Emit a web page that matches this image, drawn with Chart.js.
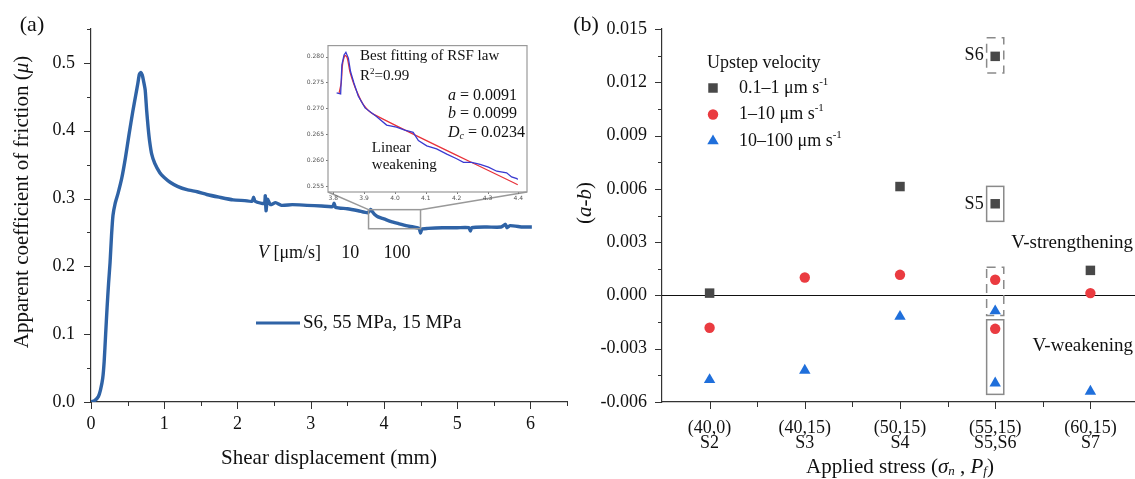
<!DOCTYPE html>
<html>
<head>
<meta charset="utf-8">
<script src="https://cdn.jsdelivr.net/npm/chart.js@4.4.1/dist/chart.umd.min.js"></script>
<style>
  html, body { margin: 0; padding: 0; background: #fff; overflow: hidden; }
  #wrap { position: relative; width: 1135px; height: 479px; }
  canvas { position: absolute; top: 0; }
  #panelA { left: 0; }
  #panelB { left: 560px; }
  #inset { left: 295px; top: 38px; }
</style>
</head>
<body>
<div id="wrap">
  <canvas id="panelA" width="570" height="479" style="width:570px;height:479px"></canvas>
  <canvas id="panelB" width="578" height="479" style="width:578px;height:479px"></canvas>
  <canvas id="inset" width="240" height="165" style="width:240px;height:165px"></canvas>
</div>
<script>
// ---- panel (a): friction curve of S6 ----
const shearDisp = [0, 0.05, 0.10, 0.13, 0.16, 0.18, 0.20, 0.22, 0.24, 0.26,
  0.28, 0.30, 0.33, 0.37, 0.42, 0.47, 0.52, 0.57, 0.61, 0.64,
  0.66, 0.68, 0.70, 0.72, 0.74, 0.76, 0.78, 0.80, 0.83, 0.87,
  0.94, 1.00, 1.08, 1.18, 1.31, 1.45, 1.58, 1.75, 1.94, 2.10,
  2.20, 2.22, 2.24, 2.33, 2.37, 2.38, 2.39, 2.41, 2.45, 2.52,
  2.60, 2.75, 2.95, 3.15, 3.30, 3.32, 3.34, 3.50, 3.65, 3.78,
  3.82, 3.84, 3.87, 3.92, 4.00, 4.10, 4.20, 4.30, 4.40, 4.48,
  4.50, 4.52, 4.60, 4.80, 5.00, 5.16, 5.18, 5.20, 5.40, 5.60,
  5.66, 5.68, 5.72, 5.90, 6.02];
const frictionS6 = [0, 0.002, 0.008, 0.018, 0.035, 0.060, 0.100, 0.140, 0.175, 0.205,
  0.245, 0.275, 0.293, 0.308, 0.330, 0.360, 0.395, 0.428, 0.452, 0.470,
  0.483, 0.486, 0.482, 0.472, 0.460, 0.430, 0.405, 0.385, 0.365, 0.352,
  0.338, 0.331, 0.324, 0.318, 0.313, 0.310, 0.306, 0.302, 0.298, 0.297,
  0.296, 0.302, 0.296, 0.293, 0.293, 0.304, 0.282, 0.299, 0.291, 0.294,
  0.290, 0.291, 0.290, 0.289, 0.288, 0.293, 0.287, 0.285, 0.282, 0.279,
  0.284, 0.281, 0.277, 0.273, 0.270, 0.266, 0.263, 0.260, 0.258, 0.256,
  0.249, 0.255, 0.256, 0.257, 0.257, 0.257, 0.252, 0.257, 0.258, 0.258,
  0.262, 0.257, 0.260, 0.258, 0.258];
const curveLabel = 'S6, 55 MPa, 15 MPa';
const velocitySteps = ['10', '100'];

// inset: measured vs RSF fit
const insetDisp = [3.811, 3.824, 3.828, 3.835, 3.841, 3.849, 3.856, 3.867, 3.881, 3.903,
  3.941, 3.973, 4.005, 4.032, 4.059, 4.076, 4.103, 4.135, 4.168, 4.200,
  4.222, 4.249, 4.276, 4.303, 4.330, 4.362, 4.378, 4.395, 4.398];
const insetMeasured = [0.2730, 0.2728, 0.2784, 0.2803, 0.2808, 0.2797, 0.2771, 0.2749, 0.2724, 0.2701,
  0.2684, 0.2668, 0.2664, 0.2658, 0.2654, 0.2638, 0.2628, 0.2622, 0.2612, 0.2603,
  0.2596, 0.2596, 0.2592, 0.2587, 0.2579, 0.2576, 0.2568, 0.2565, 0.2563];
const fitDisp = [3.819, 3.826, 3.830, 3.838, 3.845, 3.854, 3.865, 3.876, 3.897, 3.930, 4.398];
const fitRSF = [0.2730, 0.2750, 0.2784, 0.2802, 0.2798, 0.2771, 0.2750, 0.2733, 0.2708, 0.2689, 0.2553];

// ---- panel (b): (a-b) per test ----
const conditions = [['(40,0)', 'S2'], ['(40,15)', 'S3'], ['(50,15)', 'S4'], ['(55,15)', 'S5,S6'], ['(60,15)', 'S7']];
const sampleCategory = { S2: 0, S3: 1, S4: 2, S5: 3, S6: 3, S7: 4 };
const seriesLabels = ['0.1–1 μm s^-1', '1–10 μm s^-1', '10–100 μm s^-1'];
const lowSamples = ['S2', 'S4', 'S5', 'S6', 'S7'];
const lowAB = [0.00013, 0.00613, 0.00516, 0.01346, 0.00141];
const midSamples = ['S2', 'S3', 'S4', 'S5', 'S6', 'S7'];
const midAB = [-0.00182, 0.00101, 0.00116, -0.00188, 0.00088, 0.00013];
const highSamples = ['S2', 'S3', 'S4', 'S5', 'S6', 'S7'];
const highAB = [-0.00475, -0.00422, -0.00119, -0.00494, -0.00088, -0.0054];

const SERIF = '"Liberation Serif", "Times New Roman", Times, serif';
const TEXT = '#111';
const AXIS = '#333';
const BLUE = '#2f63a6';

function font(size, style) { return (style || '') + ' ' + size + 'px ' + SERIF; }

// parts: [text, size, style, dy]
function rich(ctx, parts, x, y, align) {
  ctx.textAlign = 'left';
  ctx.textBaseline = 'middle';
  let w = 0;
  parts.forEach(p => { ctx.font = font(p[1], p[2]); w += ctx.measureText(p[0]).width; });
  let cx = align === 'center' ? x - w / 2 : align === 'right' ? x - w : x;
  parts.forEach(p => {
    ctx.font = font(p[1], p[2]);
    ctx.fillText(p[0], cx, y + (p[3] || 0));
    cx += ctx.measureText(p[0]).width;
  });
}

function steps(from, to, step) {
  const out = [];
  for (let v = from; v <= to + step / 1000; v += step) out.push(+v.toFixed(6));
  return out;
}

function marker(ctx, style, r, x, y, color) {
  ctx.fillStyle = color;
  ctx.beginPath();
  if (style === 'rect') {
    const s = Math.SQRT1_2 * r;
    ctx.rect(x - s, y - s, 2 * s, 2 * s);
  } else if (style === 'triangle') {
    for (let k = 0; k < 3; k++) {
      const a = k * 2 * Math.PI / 3;
      const px = x + Math.sin(a) * r, py = y - Math.cos(a) * r;
      if (k) ctx.lineTo(px, py); else ctx.moveTo(px, py);
    }
    ctx.closePath();
  } else {
    ctx.arc(x, y, r, 0, 2 * Math.PI);
  }
  ctx.fill();
}

// outside tick marks, major and minor
const tickMarks = {
  id: 'tickMarks',
  afterDraw(chart, args, opts) {
    const ctx = chart.ctx;
    ctx.save();
    ctx.strokeStyle = opts.color || AXIS;
    ctx.lineWidth = 1;
    (opts.marks || []).forEach(m => {
      const sc = chart.scales[m.axis];
      m.values.forEach(v => {
        const p = Math.round(sc.getPixelForValue(v)) + 0.5;
        ctx.beginPath();
        if (sc.isHorizontal()) { ctx.moveTo(p, sc.top); ctx.lineTo(p, sc.top + m.len); }
        else { ctx.moveTo(sc.right, p); ctx.lineTo(sc.right - m.len, p); }
        ctx.stroke();
      });
    });
    ctx.restore();
  }
};

const noGrid = { display: false, drawTicks: false };
const INSET = { left: 295, top: 38, areaLeft: 33, areaTop: 6, areaRight: 232, areaBottom: 154 };

const panelADecor = {
  id: 'panelADecor',
  afterDraw(chart) {
    const { ctx, chartArea: ca, scales: { x, y } } = chart;
    ctx.save();
    ctx.fillStyle = TEXT;
    rich(ctx, [['(a)', 22]], 32, 25, 'center');
    rich(ctx, [['Shear displacement (mm)', 21]], (ca.left + ca.right) / 2, 458, 'center');
    ctx.save();
    ctx.translate(22, 202);
    ctx.rotate(-Math.PI / 2);
    rich(ctx, [['Apparent coefficient of friction (', 21], ['μ', 21, 'italic'], [')', 21]], 0, 0, 'center');
    ctx.restore();

    // velocity steps
    rich(ctx, [['V', 18, 'italic'], [' [μm/s]', 18]], x.getPixelForValue(2.28), y.getPixelForValue(0.22), 'left');
    rich(ctx, [[velocitySteps[0], 18]], x.getPixelForValue(3.54), y.getPixelForValue(0.22), 'center');
    rich(ctx, [[velocitySteps[1], 18]], x.getPixelForValue(4.18), y.getPixelForValue(0.22), 'center');

    // legend
    const ds = chart.data.datasets[0];
    ctx.strokeStyle = ds.borderColor;
    ctx.lineWidth = 3;
    ctx.beginPath(); ctx.moveTo(256, 323); ctx.lineTo(300, 323); ctx.stroke();
    ctx.fillStyle = TEXT;
    rich(ctx, [[ds.label, 19]], 303, 323, 'left');

    // zoom window and connectors to the inset
    const x0 = x.getPixelForValue(3.79), x1 = x.getPixelForValue(4.5);
    const y0 = y.getPixelForValue(0.2836), y1 = y.getPixelForValue(0.2555);
    ctx.strokeStyle = '#999';
    ctx.lineWidth = 1.5;
    ctx.strokeRect(x0, y0, x1 - x0, y1 - y0);
    ctx.beginPath();
    ctx.moveTo(x0, y0); ctx.lineTo(INSET.left + INSET.areaLeft, INSET.top + INSET.areaBottom);
    ctx.moveTo(x1, y0); ctx.lineTo(INSET.left + INSET.areaRight, INSET.top + INSET.areaBottom);
    ctx.stroke();
    ctx.restore();
  }
};

new Chart(document.getElementById('panelA'), {
  type: 'line',
  data: {
    datasets: [{
      label: curveLabel,
      data: shearDisp.map((d, i) => ({ x: d, y: frictionS6[i] })),
      borderColor: BLUE,
      borderWidth: 3.4,
      pointRadius: 0,
      tension: 0.2,
      fill: false
    }]
  },
  options: {
    responsive: false,
    animation: false,
    events: [],
    layout: { autoPadding: false, padding: { top: 29, right: 3, left: 0, bottom: 0 } },
    plugins: {
      legend: { display: false },
      tooltip: { enabled: false },
      tickMarks: {
        marks: [
          { axis: 'x', values: steps(0, 6, 1), len: 7 },
          { axis: 'x', values: steps(0.5, 6.5, 1), len: 4 },
          { axis: 'y', values: steps(0, 0.5, 0.1), len: 7 },
          { axis: 'y', values: steps(0.05, 0.55, 0.1), len: 4 }
        ]
      }
    },
    scales: {
      x: {
        type: 'linear', min: 0, max: 6.5,
        afterFit: s => { s.height = 77; },
        grid: noGrid,
        border: { color: AXIS, width: 1.2 },
        ticks: { stepSize: 1, includeBounds: false, padding: 11, color: TEXT, font: { family: SERIF, size: 18 } }
      },
      y: {
        min: 0, max: 0.55,
        afterFit: s => { s.width = 91; },
        grid: noGrid,
        border: { color: AXIS, width: 1.2 },
        ticks: { stepSize: 0.1, includeBounds: false, padding: 16, color: TEXT, font: { family: SERIF, size: 18 },
          callback: v => v.toFixed(1) }
      }
    }
  },
  plugins: [tickMarks, panelADecor]
});

// ---- inset ----
const insetDecor = {
  id: 'insetDecor',
  afterDraw(chart) {
    const { ctx, chartArea: ca, scales: { x, y } } = chart;
    ctx.save();
    ctx.strokeStyle = '#9a9a9a';
    ctx.lineWidth = 1.2;
    ctx.strokeRect(ca.left, ca.top, ca.right - ca.left, ca.bottom - ca.top);
    ctx.fillStyle = TEXT;
    const px = v => x.getPixelForValue(v), py = v => y.getPixelForValue(v);
    rich(ctx, [['Best fitting of RSF law', 15]], px(3.887), py(0.2800), 'left');
    rich(ctx, [['R', 15], ['2', 9, '', -5], ['=0.99', 15]], px(3.887), py(0.2762), 'left');
    rich(ctx, [['a', 16, 'italic'], [' = 0.0091', 16]], px(4.172), py(0.2724), 'left');
    rich(ctx, [['b', 16, 'italic'], [' = 0.0099', 16]], px(4.172), py(0.2689), 'left');
    rich(ctx, [['D', 16, 'italic'], ['c', 10, 'italic', 4], [' = 0.0234', 16]], px(4.172), py(0.2653), 'left');
    rich(ctx, [['Linear', 15]], px(3.925), py(0.2624), 'left');
    rich(ctx, [['weakening', 15]], px(3.925), py(0.2590), 'left');
    ctx.restore();
  }
};

new Chart(document.getElementById('inset'), {
  type: 'line',
  data: {
    datasets: [
      { label: 'Measured', data: insetDisp.map((d, i) => ({ x: d, y: insetMeasured[i] })),
        borderColor: '#3a3ad0', borderWidth: 1.3, pointRadius: 0, tension: 0 },
      { label: 'RSF fit', data: fitDisp.map((d, i) => ({ x: d, y: fitRSF[i] })),
        borderColor: '#e8323a', borderWidth: 1.3, pointRadius: 0, tension: 0.3 }
    ]
  },
  options: {
    responsive: false,
    animation: false,
    events: [],
    layout: { autoPadding: false, padding: { top: INSET.areaTop, right: 240 - INSET.areaRight, left: 0, bottom: 0 } },
    plugins: {
      legend: { display: false },
      tooltip: { enabled: false },
      tickMarks: {
        color: '#777',
        marks: [
          { axis: 'x', values: steps(3.8, 4.4, 0.1), len: 2 },
          { axis: 'y', values: steps(0.255, 0.28, 0.005), len: 2 }
        ]
      }
    },
    scales: {
      x: {
        type: 'linear', min: 3.783, max: 4.428,
        afterFit: s => { s.height = 165 - INSET.areaBottom; },
        grid: noGrid,
        border: { display: false },
        ticks: { stepSize: 0.1, includeBounds: false, padding: 3, color: '#555', font: { family: 'DejaVu Sans', size: 6 },
          callback: v => v.toFixed(1) }
      },
      y: {
        min: 0.2539, max: 0.2821,
        afterFit: s => { s.width = INSET.areaLeft; },
        grid: noGrid,
        border: { display: false },
        ticks: { stepSize: 0.005, includeBounds: false, padding: 4, color: '#555', font: { family: 'DejaVu Sans', size: 6 },
          callback: v => v.toFixed(3) }
      }
    }
  },
  plugins: [tickMarks, insetDecor]
});

// ---- panel (b) ----
const boxes = [
  { sample: 'S6', y0: 0.01252, y1: 0.01451, dashed: true },
  { sample: 'S5', y0: 0.00417, y1: 0.00614, dashed: false },
  { sample: 'S6', y0: -0.00113, y1: 0.00159, dashed: true },
  { sample: 'S5', y0: -0.00557, y1: -0.00137, dashed: false }
];

const panelBDecor = {
  id: 'panelBDecor',
  beforeDatasetsDraw(chart) {
    const { ctx, chartArea: ca, scales: { x, y } } = chart;
    ctx.save();
    const z = Math.round(y.getPixelForValue(0)) + 0.5;
    ctx.strokeStyle = '#111';
    ctx.lineWidth = 1;
    ctx.beginPath(); ctx.moveTo(ca.left, z); ctx.lineTo(ca.right, z); ctx.stroke();
    ctx.strokeStyle = '#8a8a8a';
    ctx.lineWidth = 1.5;
    boxes.forEach(b => {
      const c = sampleCategory[b.sample];
      const l = x.getPixelForValue(c - 0.09), r = x.getPixelForValue(c + 0.09);
      const t = y.getPixelForValue(b.y1), btm = y.getPixelForValue(b.y0);
      ctx.setLineDash(b.dashed ? [9, 6] : []);
      ctx.strokeRect(l, t, r - l, btm - t);
    });
    ctx.restore();
  },
  afterDraw(chart) {
    const { ctx, chartArea: ca, scales: { x, y } } = chart;
    ctx.save();
    ctx.fillStyle = TEXT;
    rich(ctx, [['(b)', 22]], 26, 25, 'center');
    ctx.save();
    ctx.translate(25, 203);
    ctx.rotate(-Math.PI / 2);
    rich(ctx, [['(', 21], ['a', 21, 'italic'], ['-', 21], ['b', 21, 'italic'], [')', 21]], 0, 0, 'center');
    ctx.restore();
    rich(ctx, [['Applied stress (', 21], ['σ', 21, 'italic'], ['n', 13, 'italic', 5], [' , ', 21],
      ['P', 21, 'italic'], ['f', 13, 'italic', 5], [')', 21]], (ca.left + ca.right) / 2, 467, 'center');

    // sample tags next to boxes
    const bl = x.getPixelForValue(3 - 0.09) - 3;
    rich(ctx, [['S6', 18]], bl, y.getPixelForValue(0.01351), 'right');
    rich(ctx, [['S5', 18]], bl, y.getPixelForValue(0.00516), 'right');
    rich(ctx, [['V-strengthening', 19]], ca.right - 5, y.getPixelForValue(0.00293), 'right');
    rich(ctx, [['V-weakening', 19]], ca.right - 5, y.getPixelForValue(-0.00282), 'right');

    // legend
    rich(ctx, [['Upstep velocity', 18]], 147, 63, 'left');
    chart.data.datasets.forEach((ds, i) => {
      const yy = 88 + i * 26.5;
      marker(ctx, ds.pointStyle, ds.pointRadius, 153, yy, ds.backgroundColor);
      const parts = ds.label.split('^');
      ctx.fillStyle = TEXT;
      rich(ctx, [[parts[0], 18], [parts[1], 11, '', -6]], 179, yy, 'left');
    });
    ctx.restore();
  }
};

function series(samples, values) {
  return samples.map((s, i) => ({ x: sampleCategory[s], y: values[i] }));
}

new Chart(document.getElementById('panelB'), {
  type: 'scatter',
  data: {
    datasets: [
      { label: seriesLabels[0], data: series(lowSamples, lowAB), pointStyle: 'rect', pointRadius: 6.7,
        backgroundColor: '#484848', borderWidth: 0 },
      { label: seriesLabels[1], data: series(midSamples, midAB), pointStyle: 'circle', pointRadius: 5.2,
        backgroundColor: '#ea3b40', borderWidth: 0 },
      { label: seriesLabels[2], data: series(highSamples, highAB), pointStyle: 'triangle', pointRadius: 6.6,
        backgroundColor: '#1f6fdb', borderWidth: 0 }
    ]
  },
  options: {
    responsive: false,
    animation: false,
    events: [],
    layout: { autoPadding: false, padding: { top: 29, right: 0, left: 0, bottom: 0 } },
    plugins: {
      legend: { display: false },
      tooltip: { enabled: false },
      tickMarks: {
        marks: [
          { axis: 'x', values: [0, 1, 2, 3, 4], len: 7 },
          { axis: 'x', values: [0.5, 1.5, 2.5, 3.5], len: 5 },
          { axis: 'y', values: steps(-0.006, 0.015, 0.003), len: 7 },
          { axis: 'y', values: steps(-0.0045, 0.0135, 0.003), len: 4 }
        ]
      }
    },
    scales: {
      x: {
        type: 'linear', min: -0.5, max: 4.5,
        afterBuildTicks: s => { s.ticks = conditions.map((c, i) => ({ value: i })); },
        afterFit: s => { s.height = 77; },
        grid: noGrid,
        border: { color: AXIS, width: 1.2 },
        ticks: { autoSkip: false, maxRotation: 0, padding: 19, color: TEXT,
          font: { family: SERIF, size: 18, lineHeight: 0.83 },
          callback: v => conditions[v] || '' }
      },
      y: {
        min: -0.006, max: 0.015,
        afterFit: s => { s.width = 102; },
        grid: noGrid,
        border: { color: AXIS, width: 1.2 },
        ticks: { stepSize: 0.003, includeBounds: false, padding: 15, color: TEXT, font: { family: SERIF, size: 18 },
          callback: v => Math.abs(v) < 1e-9 ? '0.000' : v.toFixed(3) }
      }
    }
  },
  plugins: [tickMarks, panelBDecor]
});
</script>
</body>
</html>
